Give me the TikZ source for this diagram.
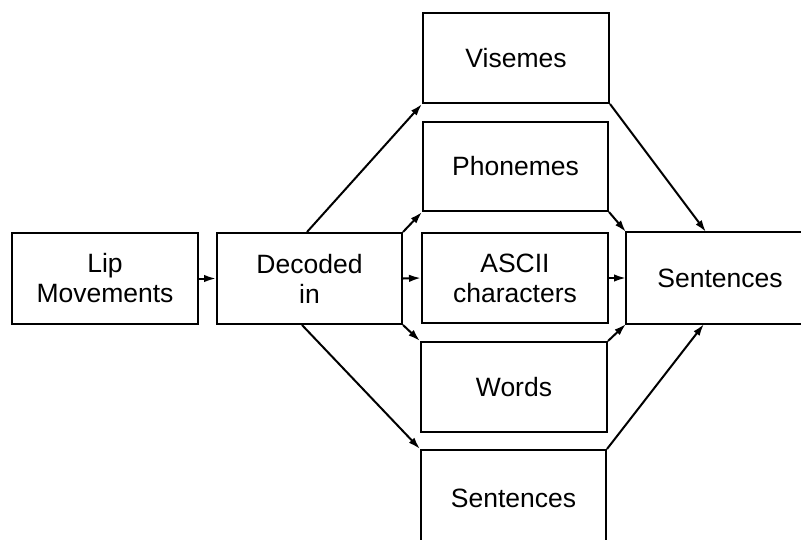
\documentclass[tikz,border=0pt]{standalone}
\usepackage{fontspec}
\setmainfont{Liberation Sans}
\usetikzlibrary{arrows.meta,calc}
\begin{document}
\begin{tikzpicture}[x=1pt,y=-1pt,
  box/.style={draw=black,line width=2pt,rectangle,inner sep=0pt,align=center,
    font=\fontsize{26.5}{30}\selectfont},
  conn/.style={line width=2pt,-{Latex[length=12pt,width=7.5pt]}},
  plain/.style={line width=2pt}]
\path[use as bounding box,clip] (0,0) rectangle (801,539);
\fill[white] (0,0) rectangle (801,539);
\node[box,minimum width=186pt,minimum height=91pt] (lip) at (105,278.5) {Lip\\Movements};
\node[box,minimum width=185pt,minimum height=91pt] (dec) at (309.5,278.5) {Decoded\\in};
\node[box,minimum width=186pt,minimum height=90pt] (vis) at (516,58) {Visemes};
\node[box,minimum width=185pt,minimum height=89pt] (pho) at (515.5,166.5) {Phonemes};
\node[box,minimum width=186pt,minimum height=90pt] (asc) at (515,278) {ASCII\\characters};
\node[box,minimum width=186pt,minimum height=90pt] (wor) at (514,387) {Words};
\node[box,minimum width=185pt,minimum height=110pt] (bse) at (513.5,505) {\raisebox{14pt}{Sentences}};
\node[box,draw=none,minimum width=186pt,minimum height=90pt] (rse) at (720,278) {Sentences};
\draw[plain] (rse.north west) rectangle ($(rse.south west)+(230,0)$);
\coordinate (dtop) at ($(dec.north west)+(91,0)$);
\coordinate (dbot) at ($(dec.south west)+(86,0)$);
\coordinate (rtop) at ($(rse.north west)+(80,0)$);
\coordinate (rbot) at ($(rse.south west)+(78,0)$);
\draw[conn] (lip.east) -- (dec.west);
\draw[conn] (dtop) -- (vis.south west);
\draw[conn] (dbot) -- (bse.north west);
\draw[conn] (dec.north east) -- (pho.south west);
\draw[conn] (dec.east) -- (asc.west);
\draw[conn] (dec.south east) -- (wor.north west);
\draw[conn] (pho.south east) -- (rse.north west);
\draw[conn] (asc.east) -- (rse.west);
\draw[conn] (wor.north east) -- (rse.south west);
\draw[conn] (vis.south east) -- (rtop);
\draw[conn] (bse.north east) -- (rbot);
\end{tikzpicture}
\end{document}
